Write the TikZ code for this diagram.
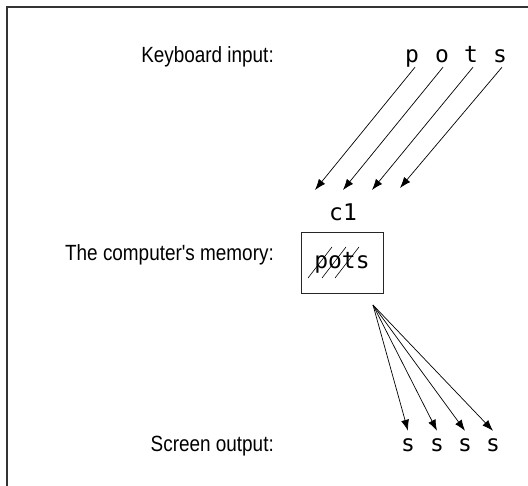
\documentclass[tikz,border=0pt]{standalone}
\usepackage{fontspec}
\setmainfont{Liberation Sans}
\setmonofont{DejaVu Sans Mono}
\newfontfamily\labelfont[FakeStretch=0.86]{Liberation Sans}
\usetikzlibrary{positioning,arrows.meta}

\begin{document}
\begin{tikzpicture}[x=1pt,y=-1pt,
  caption/.style={anchor=base east,inner sep=0pt,font=\labelfont\fontsize{22}{26}\selectfont},
  glyph/.style={anchor=base,inner sep=4pt,text height=17pt,text depth=0pt,font=\ttfamily\fontsize{23}{27}\selectfont},
  membox/.style={draw=black!85,line width=0.8pt,minimum width=82pt,minimum height=61pt,inner sep=0pt,font=\ttfamily\fontsize{23}{27}\selectfont},
  keyarrow/.style={-{Latex[length=11pt,width=8pt]},line width=0.7pt}]
\useasboundingbox (0,0) rectangle (528,486);
% open frame, top and left only
\draw[line width=1.2pt,black!80] (528,7) -- (7,7) -- (7,486);

% row labels
\node[caption] (lkey) at (274,63) {Keyboard input:};
\node[caption] (lmem) at (274,261) {The computer's memory:};
\node[caption] (lscr) at (274,452) {Screen output:};

% typed keys
\node[glyph] (kp) at (412,63) {p};
\node[glyph] (ko) at (442,63) {o};
\node[glyph] (kt) at (471,63) {t};
\node[glyph] (ks) at (500,63) {s};

% variable and its storage
\node[glyph] (var) at (343,221) {c1};
\node[membox] (mem) at (342,262.5) {pots};
\draw[line width=0.6pt] ([shift={(-34,15.5)}]mem.center) -- ([shift={(-10,-15.5)}]mem.center);
\draw[line width=0.6pt] ([shift={(-20,15.5)}]mem.center) -- ([shift={(4,-15.5)}]mem.center);
\draw[line width=0.6pt] ([shift={(-7,15.5)}]mem.center) -- ([shift={(17,-15.5)}]mem.center);

% echoed characters
\node[glyph] (o1) at (408,452) {s};
\node[glyph] (o2) at (437,452) {s};
\node[glyph] (o3) at (465,452) {s};
\node[glyph] (o4) at (493,452) {s};

\coordinate (buf1) at (315,190);
\coordinate (buf2) at (343,190);
\coordinate (buf3) at (372,190);
\coordinate (buf4) at (400,188);
\coordinate (fan) at (373,305);

\draw[keyarrow] ([xshift=3pt]kp.south) -- (buf1);
\draw[keyarrow] ([xshift=1pt]ko.south) -- (buf2);
\draw[keyarrow] ([xshift=2pt]kt.south) -- (buf3);
\draw[keyarrow] ([xshift=2pt]ks.south) -- (buf4);

\draw[keyarrow] (fan) -- (o1.north);
\draw[keyarrow] (fan) -- (o2.north);
\draw[keyarrow] (fan) -- (o3.north);
\draw[keyarrow] (fan) -- (o4.north);
\end{tikzpicture}
\end{document}
